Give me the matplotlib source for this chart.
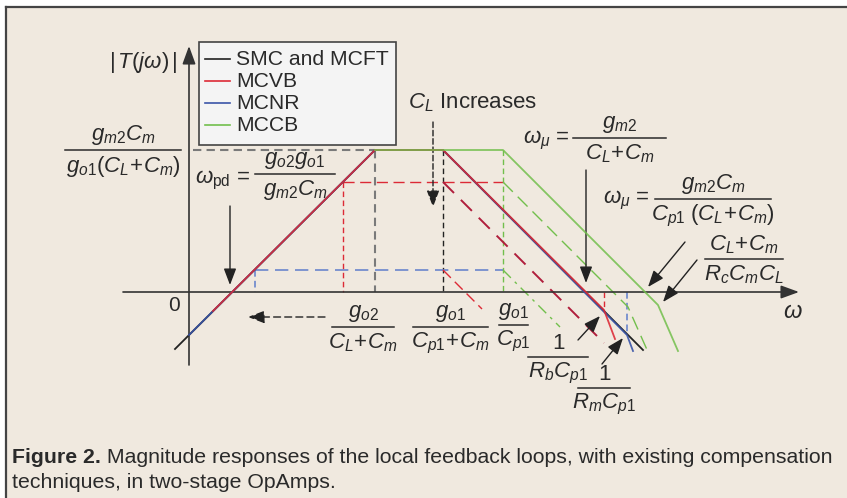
import matplotlib
matplotlib.use('Agg')
import matplotlib.pyplot as plt
from matplotlib.patches import Rectangle

plt.rcParams['font.family'] = ['Liberation Sans', 'DejaVu Sans']
plt.rcParams['mathtext.fontset'] = 'custom'
plt.rcParams['mathtext.rm'] = 'Liberation Sans'
plt.rcParams['mathtext.it'] = 'Liberation Sans:italic'
plt.rcParams['mathtext.bf'] = 'Liberation Sans:bold'

# 折线数据（横轴 log(omega)，纵轴 |T|，原点在两轴交点）
smc_x = [-14, 186, 254, 454]
smc_y = [-57, 142, 142, -58]
mcnr_x = [0, 186, 254, 438, 444]
mcnr_y = [-43, 142, 142, -43, -59]
mcvb_x = [24, 186, 254, 415, 426]
mcvb_y = [-19, 142, 142, -18, -47]
mccb_x = [186, 314, 469, 489]
mccb_y = [142, 142, -13, -59]

# 虚线（C_L 增大后的曲线）
vb_hi_x = [154, 314]; vb_hi_y = [110, 110]
vb_fall_x = [254, 415]; vb_fall_y = [110, -51]
nr_lo_x = [66, 314]; nr_lo_y = [22, 22]
vb_lo_fall_x = [254, 293]; vb_lo_fall_y = [22, -17]
cb_hi_fall_x = [314, 439, 459]; cb_hi_fall_y = [110, -15, -60]
cb_lo_fall_x = [314, 371]; cb_lo_fall_y = [22, -35]
top_guide_x = [4, 186]; top_guide_y = [142, 142]

legend_names = ['SMC and MCFT', 'MCVB', 'MCNR', 'MCCB']

BLACK = '#222222'
RED = '#dc2a36'
DRED = '#b01e3c'
BLUE = '#3a55a8'
LBLUE = '#6a86cc'
GREEN = '#72bf4c'
GRAY = '#7a7a7a'
TXT = '#2a2a2a'
BG = '#f0e9df'

fig = plt.figure(figsize=(8.47, 4.98), dpi=100)
fig.patch.set_facecolor('white')
ax = fig.add_axes([0, 0, 1, 1])
ax.set_xlim(-189, 658)
ax.set_ylim(-206, 292)
ax.axis('off')

# 背景框
ax.add_patch(Rectangle((-183, -210), 850, 495, facecolor=BG, edgecolor='none', zorder=0))
ax.plot([-183, -183], [-210, 285], color='#444444', lw=1.6, zorder=1)
ax.plot([-183, 660], [285, 285], color='#444444', lw=1.6, zorder=1)

# 坐标轴
ax.annotate('', xy=(610, 0), xytext=(-66, 0),
            arrowprops=dict(arrowstyle='-|>,head_length=1.1,head_width=0.4', color='#333333', lw=1.2,
                            shrinkA=0, shrinkB=0))
ax.annotate('', xy=(0, 246), xytext=(0, -73),
            arrowprops=dict(arrowstyle='-|>,head_length=1.1,head_width=0.4', color='#333333', lw=1.2,
                            shrinkA=0, shrinkB=0))

# 辅助虚线
ax.plot(top_guide_x, top_guide_y, color=GRAY, lw=1.5, ls=(0, (4, 2.5)))
ax.plot([186, 186], [142, 0], color=GRAY, lw=1.5, ls=(0, (4, 2.5)))
ax.plot([254, 254], [142, 0], color=BLACK, lw=1.0, ls=(0, (4, 2.5)))
ax.plot([314, 314], [142, 0], color=GREEN, lw=1.0, ls=(0, (4, 2.5)))
ax.plot(vb_hi_x, vb_hi_y, color=RED, lw=1.0, ls=(0, (8, 4)))
ax.plot([154, 154], [110, 0], color=RED, lw=1.0, ls=(0, (4, 2.5)))
ax.plot(nr_lo_x, nr_lo_y, color=LBLUE, lw=1.2, ls=(0, (8, 4)))
ax.plot([66, 66], [22, 0], color=LBLUE, lw=1.2, ls=(0, (4, 2.5)))
ax.plot([415, 415], [0, -18], color=RED, lw=1.0, ls=(0, (4, 2.5)))
ax.plot([438, 438], [0, -43], color=LBLUE, lw=1.2, ls=(0, (4, 2.5)))
ax.plot(vb_fall_x, vb_fall_y, color=DRED, lw=1.4, ls=(0, (8, 5)))
ax.plot(vb_lo_fall_x, vb_lo_fall_y, color=RED, lw=1.0, ls=(0, (8, 4)))
ax.plot(cb_hi_fall_x, cb_hi_fall_y, color=GREEN, lw=1.0, ls=(0, (10, 5)))
ax.plot(cb_lo_fall_x, cb_lo_fall_y, color=GREEN, lw=1.0, ls=(0, (8, 4, 2, 4)))

# 实线
ax.plot(smc_x, smc_y, color=BLACK, lw=1.3, zorder=3)
ax.plot(mcnr_x, mcnr_y, color=BLUE, lw=1.3, alpha=0.9, zorder=4)
ax.plot(mcvb_x, mcvb_y, color=RED, lw=1.3, alpha=0.88, zorder=5)
ax.plot(mccb_x, mccb_y, color=GREEN, lw=1.3, alpha=0.85, zorder=6)

# 图例
ax.add_patch(Rectangle((10, 147), 197, 103, facecolor='#f4f4f4', edgecolor='#444444', lw=1.2, zorder=7))
for i, (name, c) in enumerate(zip(legend_names, [BLACK, RED, BLUE, GREEN])):
    yy = 233 - i * 22
    ax.plot([16, 41], [yy, yy], color=c, lw=1.2, zorder=8)
    ax.text(47, yy, name, fontsize=15.2, color=TXT, va='center', zorder=8)


def frac(x0, x1, y, num, den, fs=16):
    ax.plot([x0, x1], [y, y], color=TXT, lw=1.1)
    xc = (x0 + x1) / 2
    ax.text(xc, y + 3, num, ha='center', va='bottom', fontsize=fs, color=TXT)
    ax.text(xc, y - 4, den, ha='center', va='top', fontsize=fs, color=TXT)


def arrow(x0, y0, x1, y1, ls='-'):
    ax.annotate('', xy=(x1, y1), xytext=(x0, y0),
                arrowprops=dict(arrowstyle='-|>,head_length=1.0,head_width=0.38',
                                color=BLACK, lw=1.0, ls=ls, shrinkA=0, shrinkB=0))


ax.text(-46, 230, r'$|\,T(j\omega)\,|$', fontsize=16, color=TXT, ha='center', va='center')
ax.text(-15, -13, '0', fontsize=15, color=TXT, ha='center', va='center')
ax.text(604, -20, r'$\omega$', fontsize=17, color=TXT, ha='center', va='center')

frac(-124, -8, 142, r'$g_{m2}C_m$', r'$g_{o1}(C_L\!+\!C_m)$')
ax.text(6, 112, r'$\omega_{\rm pd}$ =', fontsize=16, color=TXT, va='center')
frac(66, 146, 118, r'$g_{o2}g_{o1}$', r'$g_{m2}C_m$')
arrow(41, 86, 41, 7)

ax.text(219, 189, r'$C_L$ Increases', fontsize=16, color=TXT, va='center')
arrow(244, 170, 244, 85, ls=(0, (4, 2)))

ax.text(334, 152, r'$\omega_\mu$ =', fontsize=16, color=TXT, va='center')
frac(384, 477, 154, r'$g_{m2}$', r'$C_L\!+\!C_m$')
arrow(397, 122, 397, 9)

ax.text(414, 92, r'$\omega_\mu$ =', fontsize=16, color=TXT, va='center')
frac(466, 582, 93, r'$g_{m2}C_m$', r'$C_{p1}\;(C_L\!+\!C_m)$')
arrow(496, 50, 459, 5)

frac(516, 594, 33, r'$C_L\!+\!C_m$', r'$R_cC_mC_L$')
arrow(508, 32, 474, -10)

arrow(136, -25, 59, -25, ls=(0, (5, 3)))
frac(143, 205, -35, r'$g_{o2}$', r'$C_L\!+\!C_m$')
frac(224, 299, -35, r'$g_{o1}$', r'$C_{p1}\!+\!C_m$')
frac(310, 339, -33, r'$g_{o1}$', r'$C_{p1}$')
frac(339, 399, -65, '1', r'$R_bC_{p1}$')
arrow(389, -48, 411, -24)
frac(389, 441, -96, '1', r'$R_mC_{p1}$')
arrow(413, -72, 434, -46)

# 图注
cap_font = ['Liberation Sans Narrow', 'Liberation Sans', 'DejaVu Sans']
t1 = ax.text(-177, -171, 'Figure 2.', fontsize=15.3, fontweight='bold', family=cap_font, color=TXT, va='baseline')
ax.annotate(' Magnitude responses of the local feedback loops, with existing compensation',
            xycoords=t1, xy=(1, 0), va='bottom', fontsize=15.3, family=cap_font, color=TXT)
ax.text(-177, -196, 'techniques, in two-stage OpAmps.', fontsize=15.3, family=cap_font, color=TXT, va='baseline')

plt.savefig('out.png', dpi=100, facecolor=fig.get_facecolor())
